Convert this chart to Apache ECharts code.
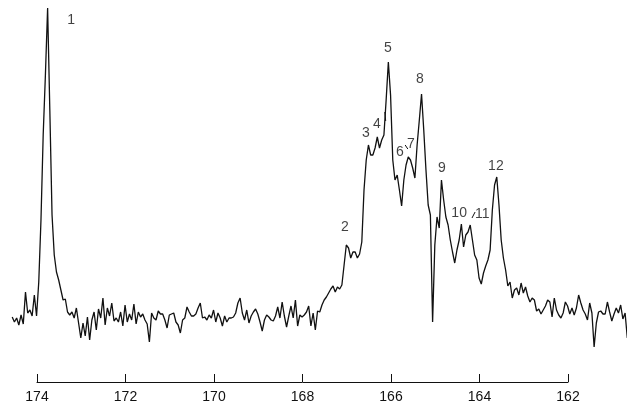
<!DOCTYPE html>
<html>
<head>
<meta charset="utf-8">
<script src="https://cdn.jsdelivr.net/npm/echarts@6/dist/echarts.min.js"></script>
<style>html,body{margin:0;padding:0;background:#fff;}#c{width:627px;height:406px;}</style>
</head>
<body>
<div id="c"></div>
<script>
// Chemical shift (ppm) sampling grid of the spectrum
const ppmStart = 174.56;
const ppmStep = 0.05;
// Intensity (arbitrary units), one value per grid point
const intensity = [
23,18,22,15,25,16,48,27,30,24,45,24,58,120,205,265,332,230,125,85,
68,60,50,40,41,28,25,28,22,32,17,2,17,4,23,0,20,28,10,31,
22,42,15,32,24,37,19,22,18,28,14,35,18,26,20,36,16,28,23,26,
20,16,-2,27,22,20,29,26,26,20,12,25,26,27,18,15,7,20,22,33,
28,24,24,26,32,37,22,23,20,25,22,30,18,27,22,14,24,18,22,22,
23,27,37,42,27,20,30,17,24,28,31,26,18,9,20,25,23,20,19,24,
33,22,38,24,13,24,34,22,40,14,25,23,25,28,34,14,27,10,29,28,
35,40,43,47,51,54,48,53,51,55,75,95,92,82,88,88,82,86,98,150,
180,195,185,185,192,203,192,200,205,240,278,245,180,160,165,150,134,160,175,183,
180,172,162,195,220,246,210,170,135,125,18,95,123,112,160,140,123,115,100,88,
77,90,100,116,93,105,108,115,100,85,80,62,56,67,74,80,90,130,155,163,
135,100,82,70,54,58,42,50,52,45,57,47,53,44,38,42,40,29,31,26,
30,34,40,38,23,42,30,25,22,27,38,34,26,32,25,32,45,37,30,26,
20,37,27,-7,17,28,29,26,26,38,28,19,26,32,27,35,21,27,2
];
// Axis tick labels
const tickMin = 162, tickMax = 174, tickStep = 2;
// Full ppm span of the plotting frame (trace runs past the scale ends)
const frameMin = 160.667, frameMax = 174.836;
// Peak numbering labels and where they sit (ppm, intensity)
const peakNames = ['1','2','3','4','5','6','7','8','9','10','11','12'];
const peakPpm   = [173.23,167.04,166.57,166.32,166.07,165.80,165.55,165.35,164.85,164.46,163.94,163.63];
const peakInt   = [320,113,207,216,292,188,196,261,172,127,126,174];
// Short leader strokes next to labels 4, 6 and 11
const leaderFrom = [[166.14,228],[165.68,195],[164.17,122]];
const leaderTo   = [[166.12,219],[165.62,191],[164.10,128]];

const lineData = intensity.map((v, i) => [+(ppmStart - i * ppmStep).toFixed(3), v]);
const labelData = peakNames.map((n, i) => ({ name: n, value: [peakPpm[i], peakInt[i]] }));
const leaderData = leaderFrom.map((f, i) => ({ coords: [f, leaderTo[i]] }));

const font = 'Liberation Sans, Arial, sans-serif';
const chart = echarts.init(document.getElementById('c'));
chart.setOption({
  animation: false,
  backgroundColor: '#fff',
  grid: [
    { left: 0, right: 0, top: 0, bottom: 24 },
    { left: 37, right: 59, top: 0, bottom: 24 }
  ],
  xAxis: [
    { type: 'value', gridIndex: 0, inverse: true, min: frameMin, max: frameMax, show: false },
    {
      type: 'value', gridIndex: 1, inverse: true, min: tickMin, max: tickMax, interval: tickStep,
      splitLine: { show: false },
      axisLine: { onZero: false, lineStyle: { color: '#111', width: 1 } },
      axisTick: { inside: true, length: 8, lineStyle: { color: '#111', width: 1 } },
      axisLabel: { color: '#111', fontSize: 14, fontFamily: font, margin: 8 }
    }
  ],
  yAxis: [
    { type: 'value', gridIndex: 0, min: -42, max: 340, show: false },
    { type: 'value', gridIndex: 1, min: -42, max: 340, show: false }
  ],
  series: [
    {
      type: 'line', xAxisIndex: 0, yAxisIndex: 0, data: lineData, symbol: 'none',
      lineStyle: { color: '#111', width: 1.3 }
    },
    {
      type: 'scatter', xAxisIndex: 0, yAxisIndex: 0, data: labelData, symbolSize: 1,
      itemStyle: { color: 'rgba(0,0,0,0)' },
      label: {
        show: true, position: 'inside', formatter: p => p.name,
        color: '#111', fontSize: 14, fontFamily: font
      }
    },
    {
      type: 'lines', coordinateSystem: 'cartesian2d', xAxisIndex: 0, yAxisIndex: 0, data: leaderData,
      lineStyle: { color: '#111', width: 1, opacity: 1 }
    },
    { type: 'line', xAxisIndex: 1, yAxisIndex: 1, data: [], symbol: 'none' }
  ]
});
</script>
</body>
</html>
